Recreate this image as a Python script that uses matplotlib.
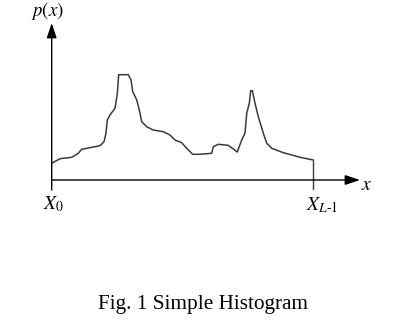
import matplotlib
matplotlib.use("Agg")
import matplotlib.pyplot as plt

plt.rcParams["mathtext.fontset"] = "stix"
plt.rcParams["font.family"] = ["Liberation Serif", "DejaVu Serif"]

# gray levels (0 .. L-1) and histogram height p(x)
levels = [0, 8.1, 19.5, 25.9, 29.2, 47.1, 51, 52.9, 54.2, 56.8, 61.7, 64, 65.3,
          74.7, 77.3, 79, 82.9, 85.4, 87.7, 92.6, 99, 108.8, 115.3, 120.2,
          126.7, 131.6, 137.4, 144.6, 155.9, 157.5, 162.4, 172.1, 177, 180.9,
          185.2, 188.4, 190.1, 192.6, 194, 195.6, 198.2, 201.4, 206.3, 209.6,
          214.5, 225.8, 242.1, 255]
counts = [16.7, 21.3, 22.7, 26.7, 30.7, 34.3, 38.3, 46.7, 60, 65, 71.7, 86.7,
          105.3, 105.3, 100, 88.3, 80, 70, 58.3, 53.3, 50, 48.3, 45, 40, 37.3,
          31.7, 25.7, 25.7, 26.7, 33.3, 35.7, 34.7, 31, 28, 40, 46.7, 66.7,
          76.7, 89.3, 89.3, 76.7, 63.3, 46.7, 36.7, 31.7, 27.3, 22.7, 20]

W, H = 405, 333
fig = plt.figure(figsize=(W / 100, H / 100), dpi=100)
# axis origin sits at pixel (51.7, 180); x arrow tip at 360, y arrow tip at 23
ax = fig.add_axes([51.7 / W, (H - 190) / H, (360 - 51.7) / W, (190 - 23) / H])
xmax = (360 - 51.7) * 255 / (313.3 - 51.7)
ax.set_xlim(0, xmax)
ax.set_ylim(-10, 157)
ax.axis("off")

ax.plot(levels, counts, color="#3a3a3a", lw=1.1, solid_joinstyle="round")
ax.vlines(levels[-1], -10, counts[-1], color="#3a3a3a", lw=1.0)

arrow = dict(arrowstyle="-|>,head_length=0.9,head_width=0.3", color="black",
             lw=1.0, shrinkA=0, shrinkB=0)
ax.annotate("", xy=(xmax, 0), xytext=(0, 0), arrowprops=arrow)
ax.annotate("", xy=(0, 157), xytext=(0, -10), arrowprops=arrow)

fig.text(47 / W, 1 - 11 / H, "$p(x)$", fontsize=13.5, ha="center", va="center")
fig.text(367 / W, 1 - 185 / H, "$x$", fontsize=14, ha="center", va="center")
fig.text(53 / W, 1 - 204 / H, "$X_0$", fontsize=14, ha="center", va="center")
fig.text(322 / W, 1 - 205 / H, r"$X_{L\text{-}1}$", fontsize=14,
         ha="center", va="center")
fig.text(203 / W, 1 - 305 / H, "Fig. 1 Simple Histogram", fontsize=15.3,
         ha="center", va="center")

fig.savefig("out.png", dpi=100)
